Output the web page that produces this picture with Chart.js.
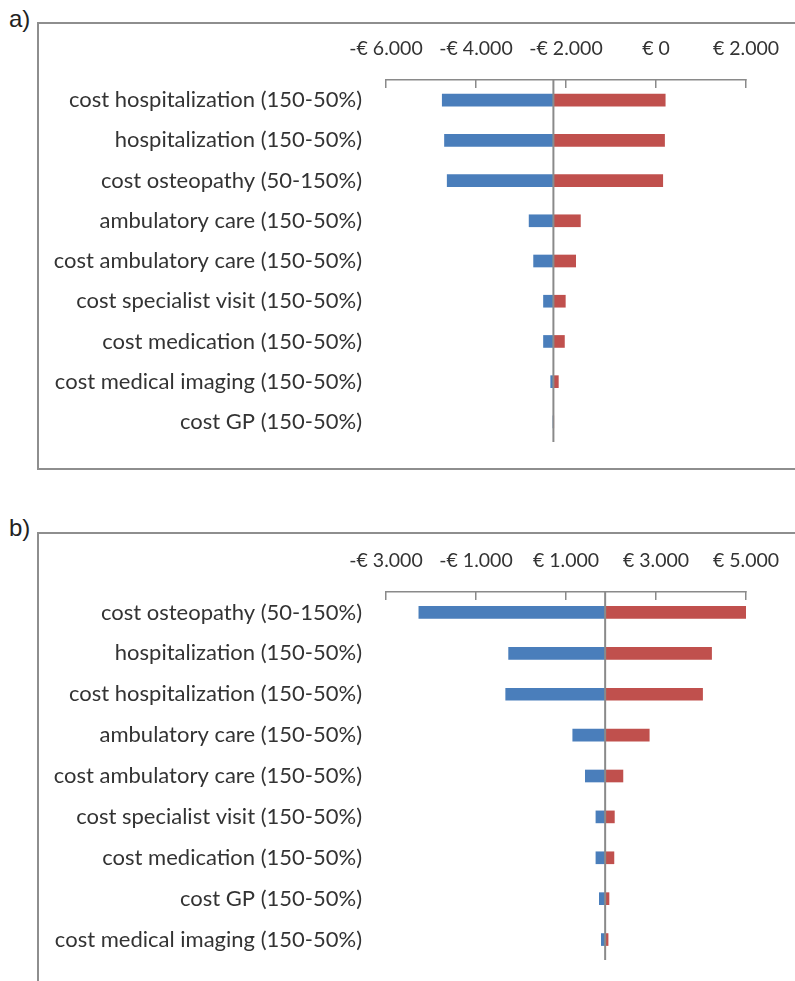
<!DOCTYPE html>
<html>
<head>
<meta charset="utf-8">
<script src="https://cdn.jsdelivr.net/npm/chart.js@4/dist/chart.umd.min.js"></script>
<style>
  body { margin: 0; background: #fff; width: 795px; height: 981px; overflow: hidden; position: relative; font-family: Arial, "Liberation Sans", sans-serif; }
  .tag { position: absolute; left: 9px; font-size: 24px; color: #222; }
  .box { position: absolute; left: 37px; width: 800px; border: 2px solid #8e8e8e; box-sizing: border-box; }
  canvas { position: absolute; }
</style>
</head>
<body>
<div class="tag" style="top:5px">a)</div>
<div class="box" style="top:22px; height:448px"></div>
<canvas id="chartA" width="756" height="444" style="left:39px; top:24px"></canvas>

<div class="tag" style="top:514px">b)</div>
<div class="box" style="top:532px; height:470px"></div>
<canvas id="chartB" width="756" height="447" style="left:39px; top:534px"></canvas>

<script>
// a) tornado
const labelsA = ['cost hospitalization (150-50%)', 'hospitalization (150-50%)', 'cost osteopathy (50-150%)',
    'ambulatory care (150-50%)', 'cost ambulatory care (150-50%)', 'cost specialist visit (150-50%)',
    'cost medication (150-50%)', 'cost medical imaging (150-50%)', 'cost GP (150-50%)'];
const baseA = -2280;
const lowA = [-4750, -4700, -4640, -2820, -2720, -2500, -2500, -2340, -2290];
const highA = [205, 190, 150, -1680, -1785, -2015, -2035, -2170, -2272];
const ticksA = [-6000, -4000, -2000, 0, 2000];

// b) tornado
const labelsB = ['cost osteopathy (50-150%)', 'hospitalization (150-50%)', 'cost hospitalization (150-50%)',
    'ambulatory care (150-50%)', 'cost ambulatory care (150-50%)', 'cost specialist visit (150-50%)',
    'cost medication (150-50%)', 'cost GP (150-50%)', 'cost medical imaging (150-50%)'];
const baseB = 1870;
const lowB = [-2270, -275, -340, 1150, 1430, 1665, 1665, 1740, 1785];
const highB = [5000, 4235, 4035, 2850, 2265, 2075, 2065, 1955, 1935];
const ticksB = [-3000, -1000, 1000, 3000, 5000];

const blue = '#4a7ebb';
const red = '#c0504d';
const textColor = '#333';
const fontFamily = 'Lato, "Open Sans", sans-serif';

function euro(v) {
    const s = String(Math.abs(v)).replace(/\B(?=(\d{3})+(?!\d))/g, '.');
    return (v < 0 ? '-' : '') + '€ ' + s;
}

// vertical line at the base value, drawn through the x scale
const baseLine = {
    id: 'baseLine',
    afterDatasetsDraw(chart, args, opts) {
        const x = chart.scales.x.getPixelForValue(opts.value);
        const area = chart.chartArea;
        const ctx = chart.ctx;
        ctx.save();
        ctx.strokeStyle = '#8a8a8a';
        ctx.lineWidth = 2;
        ctx.beginPath();
        ctx.moveTo(x, area.top);
        ctx.lineTo(x, area.bottom);
        ctx.stroke();
        ctx.restore();
    }
};

function tornado(id, labels, base, low, high, ticks, xHeight, bottomPad) {
    new Chart(document.getElementById(id), {
        type: 'bar',
        data: {
            labels: labels,
            datasets: [
                {
                    data: low.map(v => [base, v]),
                    backgroundColor: blue,
                    grouped: false,
                    barThickness: 12
                },
                {
                    data: high.map(v => [base, v]),
                    backgroundColor: red,
                    grouped: false,
                    barThickness: 12
                }
            ]
        },
        options: {
            responsive: false,
            animation: false,
            indexAxis: 'y',
            layout: { padding: { left: 0, top: 0, right: 49, bottom: bottomPad } },
            scales: {
                x: {
                    position: 'top',
                    min: ticks[0],
                    max: ticks[ticks.length - 1],
                    afterBuildTicks: scale => { scale.ticks = ticks.map(v => ({ value: v })); },
                    afterFit: scale => {
                        scale.height = xHeight;
                        scale.paddingLeft = 0;
                        scale.paddingRight = 0;
                    },
                    grid: {
                        drawOnChartArea: false,
                        tickLength: -8,
                        color: '#8a8a8a',
                        lineWidth: 1.5
                    },
                    border: { color: '#8a8a8a', width: 1.5 },
                    ticks: {
                        padding: 28,
                        maxRotation: 0,
                        color: textColor,
                        font: { family: fontFamily, size: 19.5 },
                        callback: v => euro(v)
                    }
                },
                y: {
                    afterFit: scale => {
                        scale.width = 347;
                        scale.paddingTop = 0;
                        scale.paddingBottom = 0;
                    },
                    grid: { display: false, drawTicks: false },
                    border: { display: false },
                    ticks: {
                        padding: 24,
                        color: textColor,
                        font: { family: fontFamily, size: 22 }
                    }
                }
            },
            plugins: {
                legend: { display: false },
                tooltip: { enabled: false },
                baseLine: { value: base }
            }
        },
        plugins: [baseLine]
    });
}

tornado('chartA', labelsA, baseA, lowA, highA, ticksA, 56, 26);
tornado('chartB', labelsB, baseB, lowB, highB, ticksB, 58, 21);
</script>
</body>
</html>
